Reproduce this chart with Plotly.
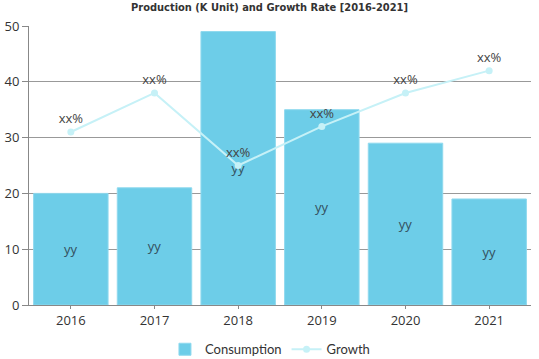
import plotly.graph_objects as go

years = ["2016", "2017", "2018", "2019", "2020", "2021"]
consumption = [20, 21, 49, 35, 29, 19]
growth = [31, 38, 25, 32, 38, 42]
bar_labels = ["yy"] * 6
line_labels = ["xx%"] * 6

fig = go.Figure()
fig.add_trace(go.Bar(
    x=years, y=consumption, name="Consumption",
    marker=dict(color="#6dcde8", line=dict(color="#8fd9ee", width=1)),
    text=bar_labels, textposition="inside", insidetextanchor="middle",
    textfont=dict(color="#34505e", size=13, family="Open Sans"),
))
fig.add_trace(go.Scatter(
    x=years, y=growth, name="Growth", mode="lines+markers+text",
    line=dict(color="#c6f1f7", width=2),
    marker=dict(color="#c6f1f7", size=7),
    text=line_labels, textposition="top center",
    textfont=dict(color="#444444", size=13, family="Open Sans"),
))
fig.update_layout(
    width=539, height=359,
    margin=dict(l=29, r=8, t=26, b=54, autoexpand=False),
    paper_bgcolor="white", plot_bgcolor="white",
    title=dict(text="<b>Production (K Unit) and Growth Rate [2016-2021]</b>",
               x=0.5, xanchor="center", y=0.99, yanchor="top", pad=dict(t=0, b=0),
               font=dict(family="DejaVu Sans Condensed", size=11, color="#333333")),
    bargap=0.11,
    showlegend=True,
    legend=dict(orientation="h", x=0.48, xanchor="center", y=-0.105, yanchor="top",
                font=dict(family="Lato", size=13, color="#333333"),
                itemwidth=30, tracegroupgap=0),
    xaxis=dict(showline=True, linecolor="#888888", ticks="outside", tickcolor="#888888",
               ticklen=3, tickfont=dict(size=13, color="#333333", family="Open Sans"),
               showgrid=False, automargin=False),
    yaxis=dict(range=[0, 50], dtick=10, showline=True, linecolor="#888888",
               ticks="outside", tickcolor="#888888", ticklen=6,
               gridcolor="#999999", gridwidth=1, zeroline=False, automargin=False,
               tickfont=dict(size=13, color="#333333", family="Open Sans")),
)
fig.write_html("out.html", config={"displayModeBar": False},
               post_script="document.body.style.margin='0';")
